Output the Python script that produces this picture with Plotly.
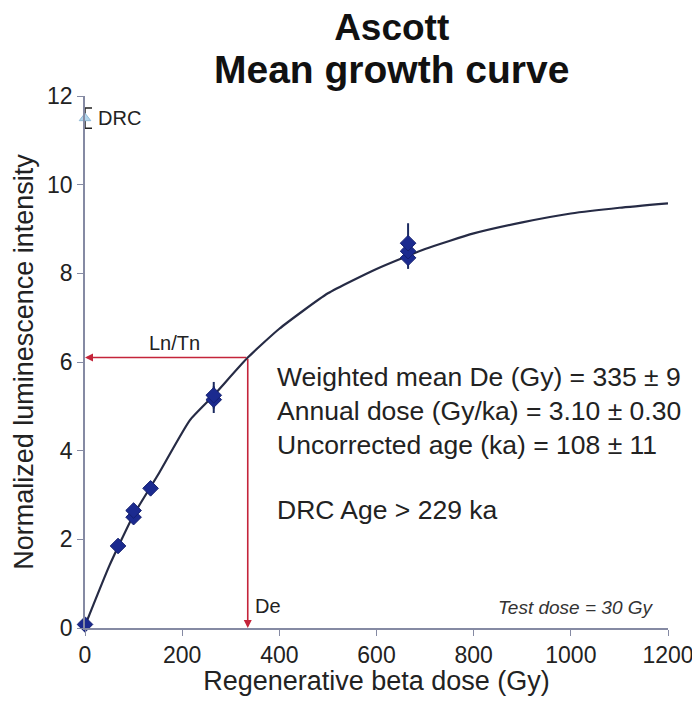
import plotly.graph_objects as go

# measured aliquots (regenerative dose, normalized Lx/Tx)
dose = [0, 68, 100, 100, 135, 265, 265, 665, 665, 665]
lum = [0.08, 1.85, 2.5, 2.65, 3.15, 5.15, 5.25, 8.35, 8.5, 8.68]
lum_err = [0.05, 0.08, 0.1, 0.1, 0.1, 0.3, 0.3, 0.25, 0.3, 0.45]

# fitted mean growth curve
curve_dose = [0, 50, 100, 150, 216, 265, 335, 400, 500, 600, 700, 800, 900, 1000, 1100, 1200]
curve_lum = [0.05, 1.4, 2.55, 3.45, 4.69, 5.25, 6.1, 6.75, 7.55, 8.1, 8.55, 8.9, 9.15, 9.35, 9.48, 9.58]

# dose recovery check point
drc_dose = [0]
drc_lum = [11.5]
drc_err = [0.23]

ln_tn = 6.1
de = 335

stats_lines = [
    "Weighted mean De (Gy) = 335 ± 9",
    "Annual dose (Gy/ka) = 3.10 ± 0.30",
    "Uncorrected age (ka) = 108 ± 11",
]
drc_age = "DRC Age > 229 ka"

navy = "#262b45"
red = "#c4243a"
axis_col = "#858aa3"
font = "Liberation Sans, Arial, sans-serif"

fig = go.Figure()

fig.add_trace(go.Scatter(
    x=curve_dose, y=curve_lum, mode="lines",
    line=dict(color=navy, width=2.2, shape="spline", smoothing=0.5),
    hoverinfo="skip",
))

fig.add_trace(go.Scatter(
    x=dose, y=lum, mode="markers",
    marker=dict(symbol="diamond", size=12, color="#1b2a8f",
                line=dict(color="#142070", width=1)),
    error_y=dict(type="data", array=lum_err, color="#1b2a60", thickness=2, width=0),
    cliponaxis=False,
))

fig.add_trace(go.Scatter(
    x=drc_dose, y=drc_lum, mode="markers",
    marker=dict(symbol="triangle-up", size=10, color="#b3d6ec",
                line=dict(color="#8fb9d6", width=1)),
    error_y=dict(type="data", array=drc_err, color="#222", thickness=1.5, width=7),
    cliponaxis=False,
))

# Ln/Tn projection onto the curve and down to De
fig.add_annotation(x=0, y=ln_tn, ax=de, ay=ln_tn, xref="x", yref="y",
                   axref="x", ayref="y", text="", showarrow=True,
                   arrowhead=2, arrowsize=1, arrowwidth=1.6, arrowcolor=red)
fig.add_annotation(x=de, y=0, ax=de, ay=ln_tn, xref="x", yref="y",
                   axref="x", ayref="y", text="", showarrow=True,
                   arrowhead=2, arrowsize=1, arrowwidth=1.6, arrowcolor=red)

small = dict(family=font, size=20, color="#222")
fig.add_annotation(x=185, y=6.42, text="Ln/Tn", showarrow=False, font=small)
fig.add_annotation(x=345, y=0.5, text="De", showarrow=False, xanchor="left", font=small)
fig.add_annotation(x=22, y=11.5, text="DRC", showarrow=False, xanchor="left", font=small)
fig.add_annotation(x=1175, y=0.47, text="<i>Test dose = 30 Gy</i>", showarrow=False,
                   xanchor="right", font=dict(family=font, size=19, color="#333"))

big = dict(family=font, size=26.5, color="#222")
for i, line in enumerate(stats_lines):
    fig.add_annotation(x=391, y=5.66 - i * 0.77, text=line, showarrow=False,
                       xanchor="left", font=big)
fig.add_annotation(x=391, y=2.66, text=drc_age, showarrow=False, xanchor="left", font=big)

# two-line title as one text block
fig.add_annotation(
    x=0.525, y=1.088, xref="paper", yref="paper", showarrow=False, yanchor="middle",
    text="<b><span style='font-size:37px'>Ascott</span><br>"
         "<span style='font-size:39px'>Mean growth curve</span></b>",
    font=dict(family=font, size=33, color="#111"),
)

# page body has an 8px margin, so the figure is a bit smaller than the window
fig.update_layout(
    width=692, height=688,
    margin=dict(l=77, r=32, t=88, b=68, autoexpand=False),
    paper_bgcolor="white", plot_bgcolor="white",
    showlegend=False,
    font=dict(family=font, color="#222"),
)

fig.update_xaxes(
    range=[0, 1200], tickvals=[0, 200, 400, 600, 800, 1000, 1200],
    showgrid=False, zeroline=False, showline=True, linecolor=axis_col, linewidth=1.5,
    ticks="outside", ticklen=6, tickcolor=axis_col, automargin=False,
    tickfont=dict(family=font, size=23, color="#222"),
    title=dict(text="Regenerative beta dose (Gy)", standoff=0,
               font=dict(family=font, size=27, color="#222")),
)
fig.update_yaxes(
    range=[0, 12], tickvals=[0, 2, 4, 6, 8, 10, 12],
    showgrid=False, zeroline=False, showline=True, linecolor=axis_col, linewidth=1.5,
    ticks="outside", ticklen=6, tickcolor=axis_col, automargin=False,
    tickfont=dict(family=font, size=23, color="#222"),
    title=dict(text="Normalized luminescence intensity", standoff=6,
               font=dict(family=font, size=27, color="#222")),
)

fig.write_html("out.html")
